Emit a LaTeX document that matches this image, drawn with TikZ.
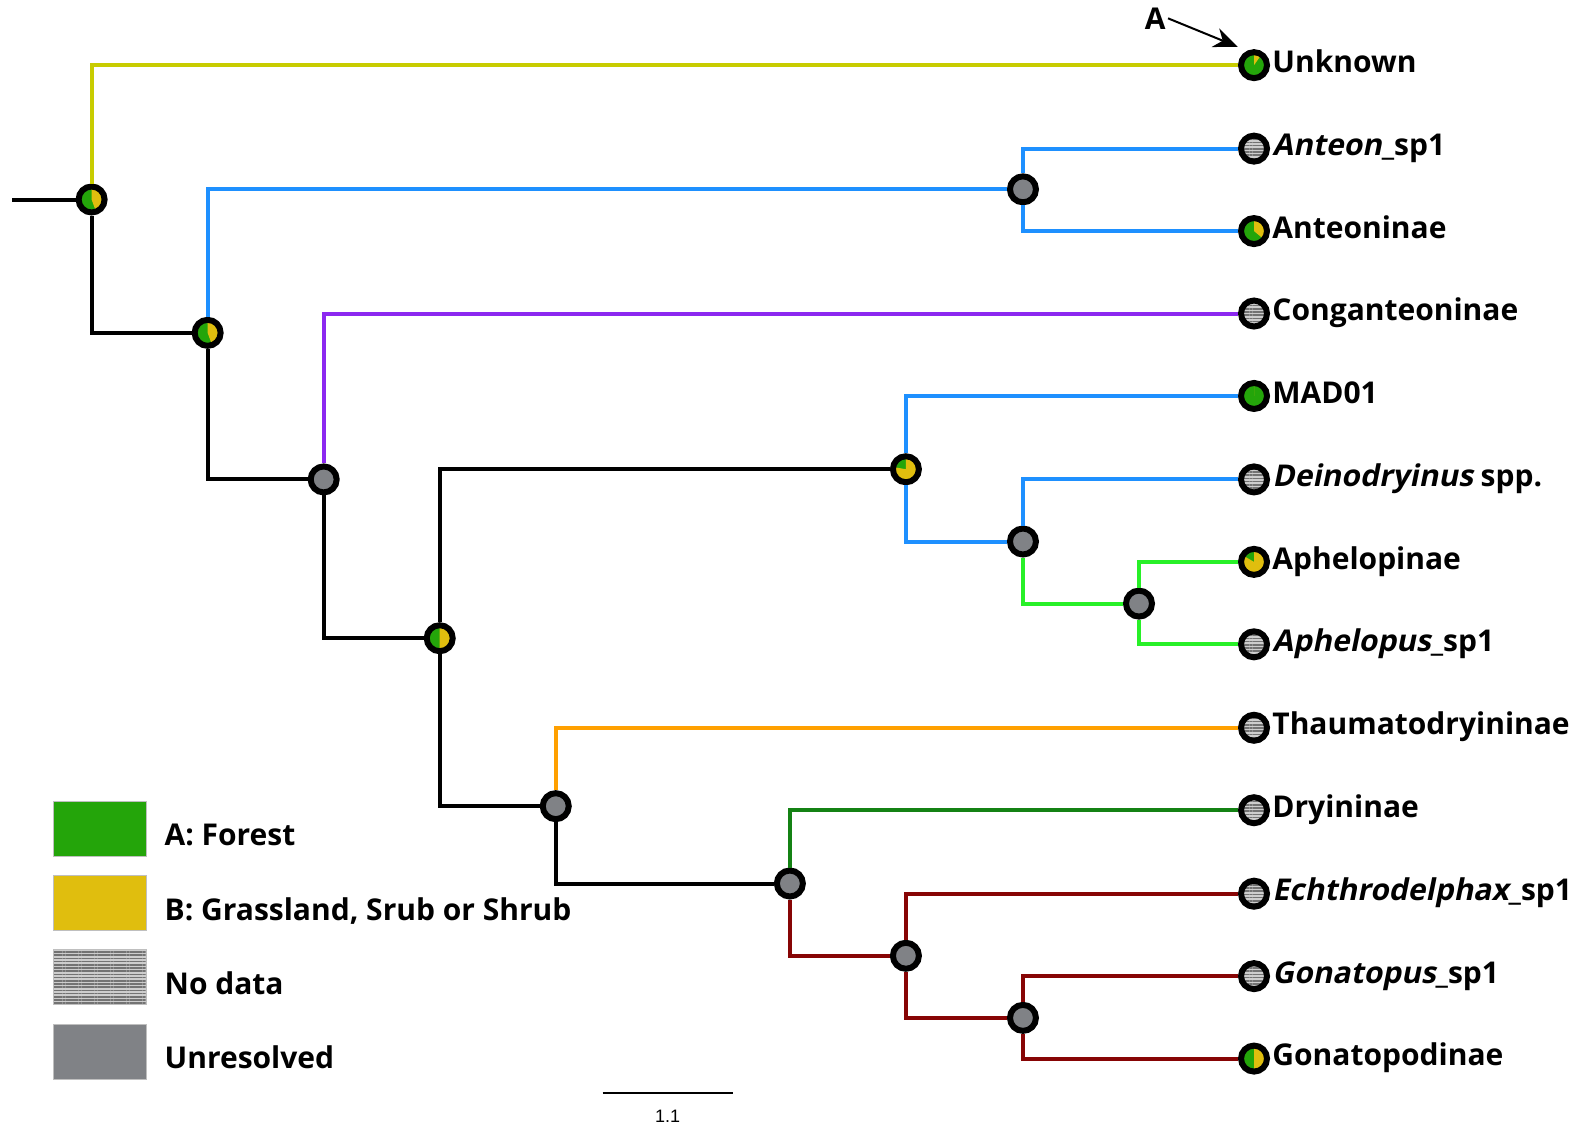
\documentclass[tikz,border=0pt]{standalone}
\usepackage{fontspec}
\setmainfont{Open Sans}[BoldItalicFont={Open Sans Bold}, BoldItalicFeatures={FakeSlant=0.2}]
\newfontfamily\scalefam{Liberation Sans}
\usetikzlibrary{arrows.meta,positioning,patterns.meta}

\definecolor{olivebr}{RGB}{200,204,0}
\definecolor{antblue}{RGB}{30,144,255}
\definecolor{congpurple}{RGB}{140,40,240}
\definecolor{aphgreen}{RGB}{40,240,40}
\definecolor{thauorange}{RGB}{255,160,0}
\definecolor{dryigreen}{RGB}{20,130,20}
\definecolor{gonred}{RGB}{135,5,5}
\definecolor{forestc}{RGB}{36,165,10}
\definecolor{grassc}{RGB}{224,190,14}
\definecolor{unresc}{RGB}{128,130,134}
\definecolor{nodatabg}{RGB}{205,205,205}
\definecolor{nodatac}{RGB}{115,115,115}

\tikzset{
  br/.style={line width=2pt},
  hab/.style={circle, draw=black, line width=3pt, minimum size=13pt, inner sep=0pt},
  pie/.style={hab, path picture={
      \fill[forestc] (path picture bounding box.south west) rectangle (path picture bounding box.north east);
      \fill[grassc] (path picture bounding box.center) -- ++(90:9pt)
        arc[start angle=90, end angle=90-#1, radius=9pt] -- cycle;}},
  hatch/.style={path picture={
      \fill[nodatabg] (path picture bounding box.south west) rectangle (path picture bounding box.north east);
      \fill[pattern={Lines[angle=0,distance=1.6pt,line width=0.8pt]}, pattern color=nodatac]
        (path picture bounding box.south west) rectangle (path picture bounding box.north east);}},
  nodata/.style={hab, hatch},
  unres/.style={hab, fill=unresc},
  lbl/.style={font=\bfseries\fontsize{15}{18}\selectfont, inner sep=1pt, anchor=base west, yshift=-3.6pt},
  legl/.style={font=\bfseries\fontsize{15}{18}\selectfont, inner sep=1pt, anchor=base west, yshift=-8.6pt},
  legbox/.style={rectangle, draw=black!25, line width=0.4pt, minimum width=46.3pt, minimum height=27.5pt, inner sep=0pt}
}

\begin{document}
\begin{tikzpicture}[x=0.509pt, y=-0.509pt]
        \useasboundingbox (0,0) rectangle (1568,1105);

        \coordinate (root) at (12,196);

        \node[pie=160] (n1) at (90,196) {};
        \node[pie=160] (n2) at (204,327) {};
        \node[unres] (n3) at (1005,186) {};
        \node[unres] (n4) at (318,471) {};
        \node[pie=180] (n5) at (432,627) {};
        \node[pie=280] (n6) at (890,461) {};
        \node[unres] (n7) at (546,792) {};
        \node[unres] (n8) at (1005,532) {};
        \node[unres] (n9) at (1119,593) {};
        \node[unres] (n10) at (776,868) {};
        \node[unres] (n11) at (890,939) {};
        \node[unres] (n12) at (1005,1000) {};

        \node[pie=35] (tUnk) at (1232,64) {};
        \node[nodata] (tAnteon) at (1232,146) {};
        \node[pie=130] (tAnteonin) at (1232,227) {};
        \node[nodata] (tCong) at (1232,308) {};
        \node[pie=0] (tMad) at (1232,389) {};
        \node[nodata] (tDein) at (1232,471) {};
        \node[pie=300] (tAphin) at (1232,552) {};
        \node[nodata] (tAphsp) at (1232,633) {};
        \node[nodata] (tThau) at (1232,715) {};
        \node[nodata] (tDry) at (1232,796) {};
        \node[nodata] (tEch) at (1232,878) {};
        \node[nodata] (tGonsp) at (1232,959) {};
        \node[pie=180] (tGonin) at (1232,1040) {};

        \draw[br] (root) -- (n1);
        \draw[br, olivebr] (n1) |- (tUnk);
        \draw[br] (n1) |- (n2);
        \draw[br, antblue] (n2) |- (n3);
        \draw[br, antblue] (n3) |- (tAnteon);
        \draw[br, antblue] (n3) |- (tAnteonin);
        \draw[br] (n2) |- (n4);
        \draw[br, congpurple] (n4) |- (tCong);
        \draw[br] (n4) |- (n5);
        \draw[br] (n5) |- (n6);
        \draw[br, antblue] (n6) |- (tMad);
        \draw[br, antblue] (n6) |- (n8);
        \draw[br, antblue] (n8) |- (tDein);
        \draw[br, aphgreen] (n8) |- (n9);
        \draw[br, aphgreen] (n9) |- (tAphin);
        \draw[br, aphgreen] (n9) |- (tAphsp);
        \draw[br] (n5) |- (n7);
        \draw[br, thauorange] (n7) |- (tThau);
        \draw[br] (n7) |- (n10);
        \draw[br, dryigreen] (n10) |- (tDry);
        \draw[br, gonred] (n10) |- (n11);
        \draw[br, gonred] (n11) |- (tEch);
        \draw[br, gonred] (n11) |- (n12);
        \draw[br, gonred] (n12) |- (tGonsp);
        \draw[br, gonred] (n12) |- (tGonin);

        \node[right=0pt of tUnk, lbl] (lUnk) {Unknown};
        \node[right=0pt of tAnteon, lbl] (lAnteon) {\textit{Anteon}\_sp1};
        \node[right=0pt of tAnteonin, lbl] (lAnteonin) {Anteoninae};
        \node[right=0pt of tCong, lbl] (lCong) {Conganteoninae};
        \node[right=0pt of tMad, lbl] (lMad) {MAD01};
        \node[right=0pt of tDein, lbl] (lDein) {\textit{Deinodryinus} spp.};
        \node[right=0pt of tAphin, lbl] (lAphin) {Aphelopinae};
        \node[right=0pt of tAphsp, lbl] (lAphsp) {\textit{Aphelopus}\_sp1};
        \node[right=0pt of tThau, lbl] (lThau) {Thaumatodryininae};
        \node[right=0pt of tDry, lbl] (lDry) {Dryininae};
        \node[right=0pt of tEch, lbl] (lEch) {\textit{Echthrodelphax}\_sp1};
        \node[right=0pt of tGonsp, lbl] (lGonsp) {\textit{Gonatopus}\_sp1};
        \node[right=0pt of tGonin, lbl] (lGonin) {Gonatopodinae};

        \node[font=\bfseries\fontsize{15}{18}\selectfont, inner sep=1pt] (labA) at (1135,18) {A};
        \coordinate (aTip) at (1216,46);
        \draw[line width=1pt, -{Stealth[length=12pt, width=10pt]}] (labA.east) -- (aTip);

        \node[legbox, fill=forestc] (kForest) at (98,814) {};
        \node[legbox, fill=grassc, below=9.3pt of kForest] (kGrass) {};
        \node[legbox, hatch, below=9.3pt of kGrass] (kNodata) {};
        \node[legbox, fill=unresc, below=9.3pt of kNodata] (kUnres) {};
        \node[right=7.9pt of kForest, legl] (lForest) {A: Forest};
        \node[right=7.9pt of kGrass, legl] (lGrass) {B: Grassland, Srub or Shrub};
        \node[right=7.9pt of kNodata, legl] (lNodata) {No data};
        \node[right=7.9pt of kUnres, legl] (lUnres) {Unresolved};

        \coordinate (sbL) at (592,1074);
        \coordinate (sbR) at (720,1074);
        \draw[line width=1pt] (sbL) -- (sbR) node[midway, below=8pt, inner sep=0pt, font=\scalefam\fontsize{9}{10}\selectfont] (sbLab) {1.1};

\end{tikzpicture}
\end{document}
